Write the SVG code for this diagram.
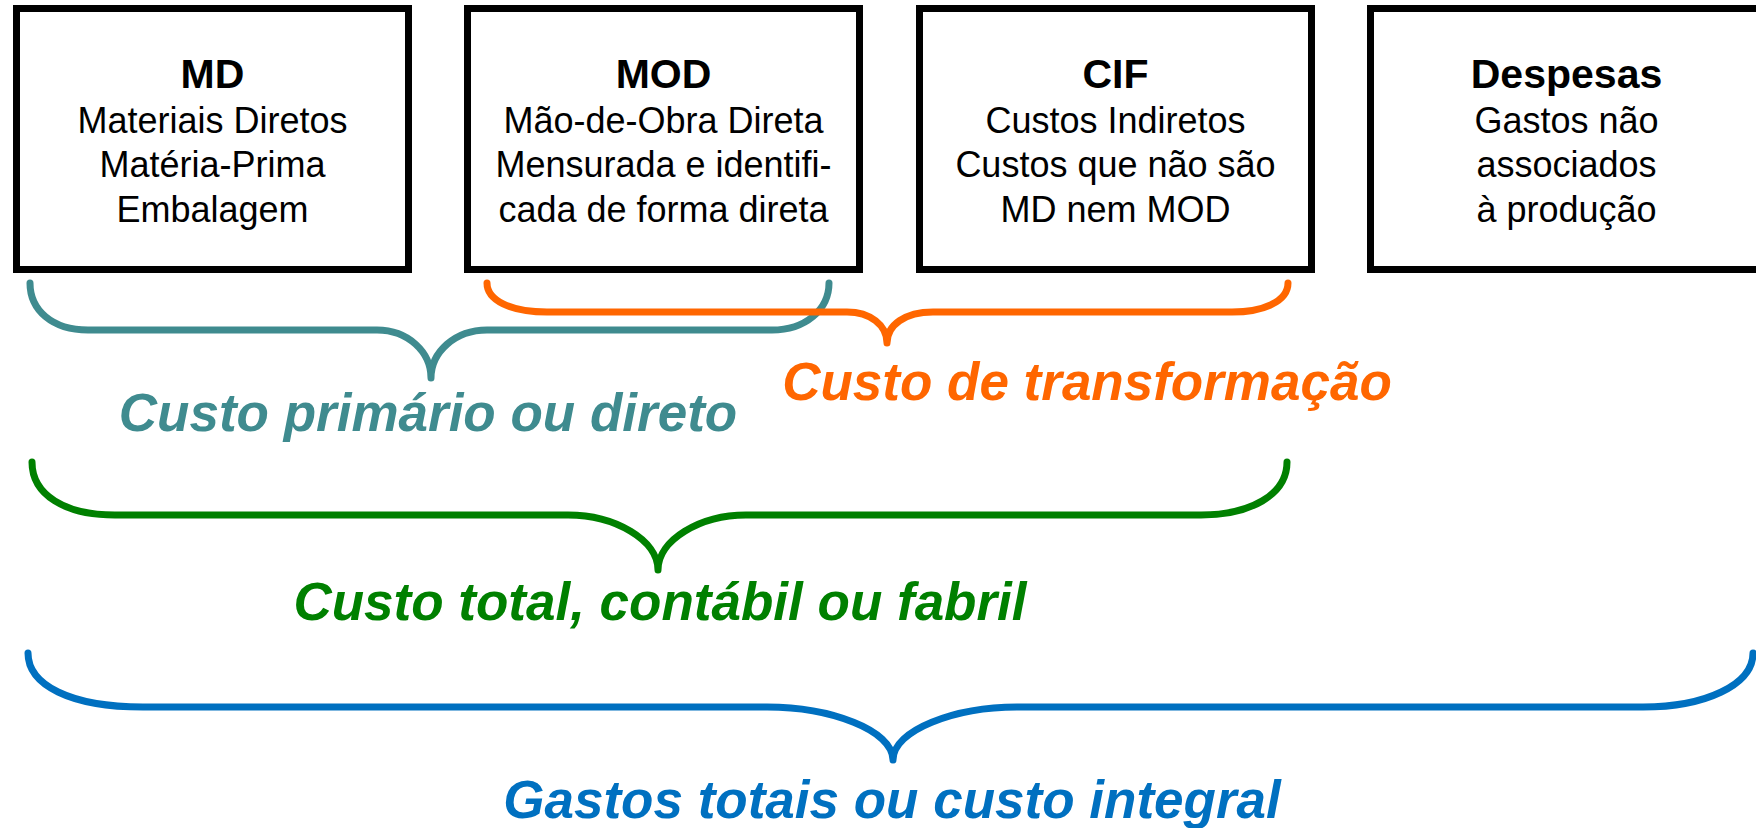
<svg xmlns="http://www.w3.org/2000/svg" width="1756" height="828" viewBox="0 0 1756 828">
<style>
.box{fill:#fff;stroke:#000;stroke-width:7}
.t{font-family:"Liberation Sans",Arial,sans-serif;text-anchor:middle;fill:#000}
.h{font-size:41px;font-weight:bold}
.b{font-size:36px}
.br{fill:none;stroke-width:7;stroke-linecap:round;stroke-linejoin:round}
.lbl{font-family:"Liberation Sans",Arial,sans-serif;font-size:53px;font-weight:bold;font-style:italic;text-anchor:middle}
</style>
<rect width="1756" height="828" fill="#fff"/>
<g id="md">
<rect class="box" x="16.5" y="8.5" width="392" height="261"/>
<text class="t h" x="212.5" y="88">MD</text>
<text class="t b" x="212.5" y="133">Materiais Diretos</text>
<text class="t b" x="212.5" y="177">Matéria-Prima</text>
<text class="t b" x="212.5" y="222">Embalagem</text>
</g>
<g id="mod">
<rect class="box" x="467.5" y="8.5" width="392" height="261"/>
<text class="t h" x="663.5" y="88">MOD</text>
<text class="t b" x="663.5" y="133">Mão-de-Obra Direta</text>
<text class="t b" x="663.5" y="177">Mensurada e identifi-</text>
<text class="t b" x="663.5" y="222">cada de forma direta</text>
</g>
<g id="cif">
<rect class="box" x="919.5" y="8.5" width="392" height="261"/>
<text class="t h" x="1115.5" y="88">CIF</text>
<text class="t b" x="1115.5" y="133">Custos Indiretos</text>
<text class="t b" x="1115.5" y="177">Custos que não são</text>
<text class="t b" x="1115.5" y="222">MD nem MOD</text>
</g>
<g id="despesas">
<rect class="box" x="1370.5" y="8.5" width="392" height="261"/>
<text class="t h" x="1566.5" y="88">Despesas</text>
<text class="t b" x="1566.5" y="133">Gastos não</text>
<text class="t b" x="1566.5" y="177">associados</text>
<text class="t b" x="1566.5" y="222">à produção</text>
</g>
<g id="connectors">
<path class="br" stroke="#3F8B8F" d="M30,283 C30,310 52,330 88,330 L377,330 C408,330 431,352 431,378 C431,352 455,330 487,330 L772,330 C805,330 829,310 829,283"/>
<path class="br" stroke="#FF6600" d="M487,283 C487,300 510,312 547,312 L847,312 C870,312 887,325 887,343 C887,325 905,312 933,312 L1232,312 C1262,312 1288,302 1288,283"/>
<path class="br" stroke="#008000" d="M32,462 C32,495 65,515 115,515 L568,515 C615,515 658,540 658,570 C658,540 700,515 746,515 L1201,515 C1250,515 1287,495 1287,462"/>
<path class="br" stroke="#0070C0" d="M28,653 C28,685 70,707 143,707 L767,707 C830,707 893,730 893,760 C893,730 955,707 1017,707 L1643,707 C1705,707 1753,685 1753,653"/>
</g>
<g id="labels">
<text class="lbl" x="428" y="431" fill="#3F8B8F">Custo primário ou direto</text>
<text class="lbl" x="1087" y="400" fill="#FF6600">Custo de transformação</text>
<text class="lbl" x="660" y="620" fill="#008000">Custo total, contábil ou fabril</text>
<text class="lbl" x="892" y="818" fill="#0070C0">Gastos totais ou custo integral</text>
</g>
</svg>
